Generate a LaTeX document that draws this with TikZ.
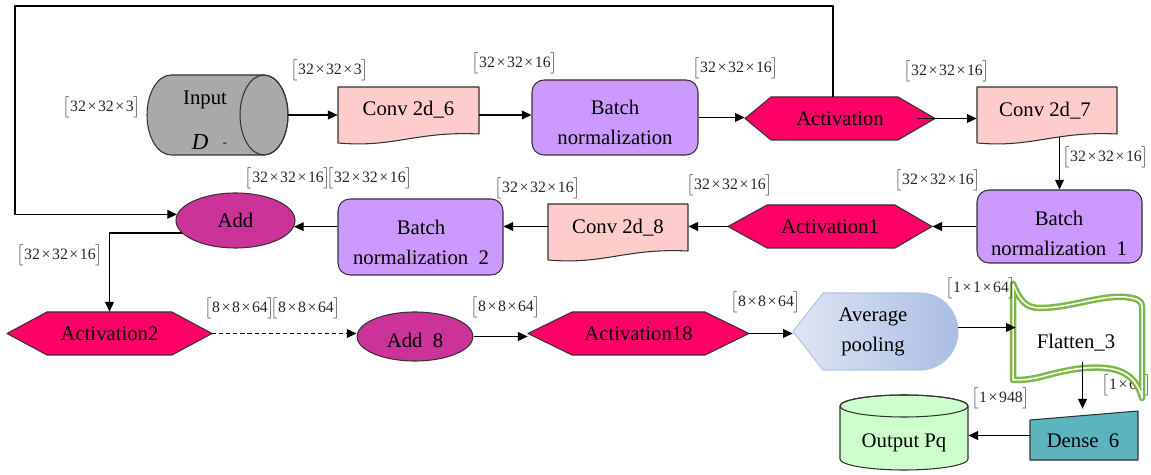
\documentclass[tikz,border=0pt]{standalone}
\usepackage{fontspec}
\setmainfont{Liberation Serif}
\usetikzlibrary{shapes.geometric,arrows.meta,calc}
\pgfdeclarelayer{bg}
\pgfsetlayers{bg,main}
\definecolor{convpink}{HTML}{FFCCCC}
\definecolor{bnpurple}{HTML}{CC99FF}
\definecolor{actred}{HTML}{FF0066}
\definecolor{addmag}{HTML}{CC3399}
\definecolor{ingray}{HTML}{ABA8A8}
\definecolor{outgreen}{HTML}{CCFFCC}
\definecolor{denseteal}{HTML}{5BB4BE}
\definecolor{flatgreen}{HTML}{7DB84A}
\definecolor{poolA}{HTML}{DFE6F4}
\definecolor{poolB}{HTML}{AABDE3}
\definecolor{poolE}{HTML}{B4C4E6}
\definecolor{edgecol}{HTML}{333333}
\newcommand\pxu{0.02cm}
\newcommand\tm{\hspace{0.1em}×\hspace{0.1em}}
\newcommand\dimlab[1]{{\color{black!70}$\big[$}#1{\color{black!70}$\big]$}}
\newcommand\docshape[4]{\path[docst] (#1,#3) -- (#2,#3) -- (#2,{#4-9}) .. controls ({#2-0.45*(#2-#1)},{#4-12}) and ({#1+0.4*(#2-#1)},{#4+5}) .. (#1,#4) -- cycle;}
\newcommand\hexa[6]{\path[hexst] (#1,{(#3+#4)/2}) -- ({#1+#5},#3) -- ({#2-#6},#3) -- (#2,{(#3+#4)/2}) -- ({#2-#6},#4) -- ({#1+#5},#4) -- cycle;}
\newcommand\flatpath{(1013,284) .. controls (1020,300) and (1025,308) .. (1040,308)
  .. controls (1070,308) and (1100,295) .. (1125,297)
  .. controls (1135,298) and (1142,300) .. (1142,306)
  -- (1142,398)
  .. controls (1138,382) and (1128,370) .. (1105,368)
  .. controls (1080,366) and (1060,372) .. (1040,377)
  .. controls (1028,380) and (1020,380) .. (1013,380) -- cycle}
\tikzset{
  every node/.style={font=\fontsize{11.8}{17}\selectfont, text=black},
  docst/.style={fill=convpink, draw=edgecol, line width=0.6pt},
  hexst/.style={fill=actred, draw=edgecol, line width=0.6pt},
  hold/.style={inner sep=0pt, draw=none, rectangle, align=center},
  arr/.style={draw=black, line width=0.7pt, -{Triangle[length=5.5pt,width=5pt]}},
  bnbox/.style={draw=edgecol, fill=bnpurple, line width=0.6pt, rounded corners=0.24cm, inner sep=0pt},
  addell/.style={ellipse, draw=edgecol, fill=addmag, line width=0.6pt, inner sep=0pt},
  lab/.style={font=\fontsize{9}{10}\selectfont, inner sep=0pt, text=black!85},
}
\begin{document}
\begin{tikzpicture}[x=0.02cm, y=-0.02cm, line join=round]
\useasboundingbox (0,0) rectangle (1151,475);

% ---------- Input cylinder ----------
\path[fill=ingray, draw=edgecol, line width=0.6pt] (171,75) -- (264,75)
  arc[start angle=-90,end angle=90,x radius=24,y radius=40] -- (171,155)
  arc[start angle=90,end angle=270,x radius=24,y radius=40] -- cycle;
\draw[edgecol, line width=0.6pt] (264,115) ellipse[x radius=24, y radius=40];
\node[hold, minimum width=141*\pxu, minimum height=80*\pxu] (inp) at (217.5,115) {};
\node at (205,100) {Input};
\node[font=\fontsize{13}{15}\selectfont] at (200,142) {\textit{D}};
\node[font=\fontsize{7}{8}\selectfont] at (225,145) {-};

% ---------- Conv shapes ----------
\docshape{338}{479}{87}{143}
\node[hold, minimum width=141*\pxu, minimum height=56*\pxu] (c6) at (408.5,115) {};
\node at (408.5,110) {Conv 2d\_6};
\docshape{977}{1117}{87}{143}
\node[hold, minimum width=140*\pxu, minimum height=56*\pxu] (c7) at (1047,115) {};
\node at (1045,111) {Conv 2d\_7};
\docshape{548}{688}{204}{260}
\node[hold, minimum width=140*\pxu, minimum height=56*\pxu] (c8) at (618,232) {};
\node at (618,228) {Conv 2d\_8};

% ---------- Batch normalization ----------
\node[bnbox, minimum width=166*\pxu, minimum height=75*\pxu] (bn) at (615,117.5) {};
\node[align=center] at (615,122) {Batch\\normalization};
\node[bnbox, minimum width=165*\pxu, minimum height=73*\pxu] (bn1) at (1059.5,226.5) {};
\node[align=center] at (1059,233) {Batch\\normalization\ \ 1};
\node[bnbox, minimum width=165*\pxu, minimum height=76*\pxu] (bn2) at (420.5,237) {};
\node[align=center] at (421,242) {Batch\\normalization\ \ 2};

% ---------- Activations ----------
\hexa{745}{935}{97}{140}{26}{37}
\node[hold, minimum width=190*\pxu, minimum height=43*\pxu] (act) at (840,118.5) {Activation};
\hexa{728}{932}{205}{248}{39}{37}
\node[hold, minimum width=204*\pxu, minimum height=43*\pxu] (act1) at (830,226.5) {Activation1};
\hexa{7}{212}{312}{355}{40}{40}
\node[hold, minimum width=205*\pxu, minimum height=43*\pxu] (act2) at (109.5,333.5) {Activation2};
\hexa{528}{749}{312}{355}{44}{44}
\node[hold, minimum width=221*\pxu, minimum height=43*\pxu] (act18) at (638.5,333.5) {Activation18};

% ---------- Add ----------
\node[addell, minimum width=119*\pxu, minimum height=55*\pxu] (add) at (235.5,220.5) {Add};
\node[addell, minimum width=116*\pxu, minimum height=49*\pxu] (add8) at (415,336.5) {};
\node at (415,340) {Add\ \ 8};

% ---------- Average pooling ----------
\path[left color=poolA, right color=poolB, draw=poolE, line width=0.6pt]
  (793,331.5) -- (823,293) -- (920,293)
  arc[start angle=-90,end angle=90,x radius=38,y radius=38.5] -- (823,370) -- cycle;
\node[hold, minimum width=165*\pxu, minimum height=77*\pxu] (pool) at (875.5,331.5) {};
\node[align=center] at (873,332) {Average\\pooling};

% ---------- Flatten (fill, label, outline) ----------
\path[fill=white] \flatpath;
\node[lab] at (1127,385) {\dimlab{1\tm64}};
\path[draw=flatgreen, double=white, line width=0.05cm, double distance=0.03cm] \flatpath;
\node[hold, minimum width=129*\pxu, minimum height=116*\pxu] (fl) at (1077.5,342) {};
\node at (1076,343) {Flatten\_3};

% ---------- Dense ----------
\path[fill=denseteal, draw=edgecol, line width=0.6pt] (1030,420) -- (1138,411) -- (1138,460) -- (1030,460) -- cycle;
\node[hold, minimum width=108*\pxu, minimum height=49*\pxu] (dn) at (1084,435.5) {};
\node at (1083,441) {Dense\ \ 6};

% ---------- Output cylinder ----------
\path[fill=outgreen, draw=edgecol, line width=0.6pt] (840,406) -- (840,459)
  arc[start angle=180,end angle=0,x radius=64,y radius=11] -- (968,406)
  arc[start angle=0,end angle=-180,x radius=64,y radius=11] -- cycle;
\draw[edgecol, line width=0.6pt] (904,406) ellipse[x radius=64, y radius=11];
\node[hold, minimum width=128*\pxu, minimum height=75*\pxu] (out) at (904,432.5) {};
\node at (904,443) {Output Pq};

% ---------- connectors ----------
\coordinate (fb) at (15,6);
\draw[arr] (inp.east) -- (inp.east -| c6.west);
\draw[arr] (c6.east) -- (c6.east -| bn.west);
\draw[arr] (bn.east) -- (bn.east -| act.west);
\draw[arr] ($(act.east)+(-17,0)$) -- (act.east -| c7.west);
\begin{pgfonlayer}{bg}
\draw[arr] (bn1.north |- c7.center) -- (bn1.north);
\end{pgfonlayer}
\draw[arr] (bn1.west) -- (act1.east);
\draw[arr] (act1.west) -- (act1.west -| c8.east);
\draw[arr] (act1.west -| c8.west) -- (act1.west -| bn2.east);
\draw[arr] (bn2.west |- add.354) -- (add.354);
\draw[arr, line width=0.6pt] ($(act.north)+(-7,0)$) |- (fb) |- (add.174);
\draw[arr] (add.193) -| (act2.north);
\draw[arr, dash pattern=on 2.3pt off 1.7pt] (act2.east) -- (act2.east -| add8.west);
\draw[arr] (add8.east) -- (add8.east -| act18.west);
\draw[arr] (act18.east) -- (act18.east -| pool.west);
\draw[arr] ($(pool.east)+(0,-4)$) -- ($(pool.east -| fl.west)+(3,-4)$);
\draw[arr] ($(fl.center)+(5,20)$) -- ($(fl.center |- dn.north)+(5,-2)$);
\draw[arr] (dn.west) -- (dn.west -| out.east);

% ---------- dimension labels ----------
\node[lab] at (102,107) {\dimlab{32\tm32\tm3}};
\node[lab] at (330,70) {\dimlab{32\tm32\tm3}};
\node[lab] at (515,63) {\dimlab{32\tm32\tm16}};
\node[lab] at (736,68) {\dimlab{32\tm32\tm16}};
\node[lab] at (947,71) {\dimlab{32\tm32\tm16}};
\node[lab] at (1106,157) {\dimlab{32\tm32\tm16}};
\node[lab] at (938,180) {\dimlab{32\tm32\tm16}};
\node[lab] at (730,185) {\dimlab{32\tm32\tm16}};
\node[lab] at (538,188) {\dimlab{32\tm32\tm16}};
\node[lab] at (329,178) {\dimlab{32\tm32\tm16}\hspace{-2.5pt}\dimlab{32\tm32\tm16}};
\node[lab] at (60,255) {\dimlab{32\tm32\tm16}};
\node[lab] at (273,308) {\dimlab{8\tm8\tm64}\hspace{-2.5pt}\dimlab{8\tm8\tm64}};
\node[lab] at (506,307) {\dimlab{8\tm8\tm64}};
\node[lab] at (766,302) {\dimlab{8\tm8\tm64}};
\node[lab] at (981,288) {\dimlab{1\tm1\tm64}};
\node[lab] at (1001,398) {\dimlab{1\tm948}};
\end{tikzpicture}
\end{document}
